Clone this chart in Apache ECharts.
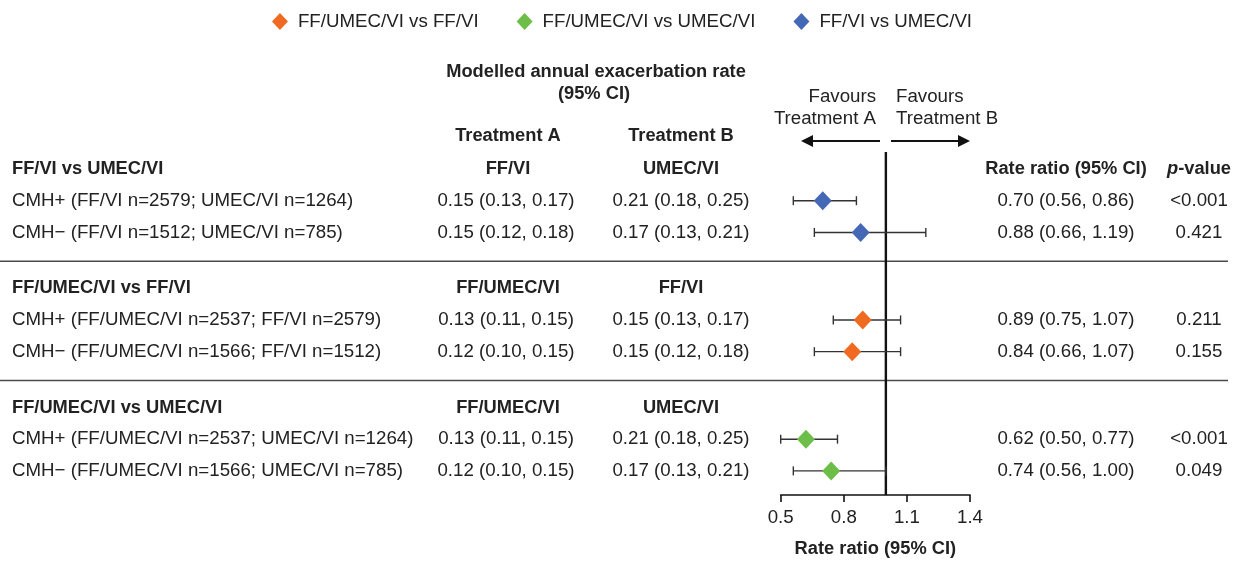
<!DOCTYPE html>
<html>
<head>
<meta charset="utf-8">
<script src="https://cdn.jsdelivr.net/npm/echarts@6/dist/echarts.min.js"></script>
<style>html,body{margin:0;padding:0;background:#fff;}#c{width:1244px;height:567px;}</style>
</head>
<body>
<div id="c"></div>
<script>
// ---- data ----
const groups = ['FF/VI vs UMEC/VI', 'FF/UMEC/VI vs FF/VI', 'FF/UMEC/VI vs UMEC/VI'];
const treatA = ['FF/VI', 'FF/UMEC/VI', 'FF/UMEC/VI'];
const treatB = ['UMEC/VI', 'FF/VI', 'UMEC/VI'];
const rowLabels = [
  'CMH+ (FF/VI n=2579; UMEC/VI n=1264)',
  'CMH\u2212 (FF/VI n=1512; UMEC/VI n=785)',
  'CMH+ (FF/UMEC/VI n=2537; FF/VI n=2579)',
  'CMH\u2212 (FF/UMEC/VI n=1566; FF/VI n=1512)',
  'CMH+ (FF/UMEC/VI n=2537; UMEC/VI n=1264)',
  'CMH\u2212 (FF/UMEC/VI n=1566; UMEC/VI n=785)'
];
const rateA = ['0.15 (0.13, 0.17)', '0.15 (0.12, 0.18)', '0.13 (0.11, 0.15)', '0.12 (0.10, 0.15)', '0.13 (0.11, 0.15)', '0.12 (0.10, 0.15)'];
const rateB = ['0.21 (0.18, 0.25)', '0.17 (0.13, 0.21)', '0.15 (0.13, 0.17)', '0.15 (0.12, 0.18)', '0.21 (0.18, 0.25)', '0.17 (0.13, 0.21)'];
const ratio = [0.70, 0.88, 0.89, 0.84, 0.62, 0.74];
const lower = [0.56, 0.66, 0.75, 0.66, 0.50, 0.56];
const upper = [0.86, 1.19, 1.07, 1.07, 0.77, 1.00];
const pValues = ['<0.001', '0.421', '0.211', '0.155', '<0.001', '0.049'];
const xTicks = [0.5, 0.8, 1.1, 1.4];
const groupColors = ['#4467B6', '#F06A22', '#6CBE48'];
const legendOrder = [1, 2, 0];

// ---- layout helpers (row positions in row units) ----
const GROUP_STEP = 3.76;
const headerY = g => g * GROUP_STEP;
const rowY = i => Math.floor(i / 2) * GROUP_STEP + 1 + (i % 2);
const sepY = g => g * GROUP_STEP + 2.91;

const FONT = 'Liberation Sans, Arial, sans-serif';
const TXT = '#222';
const FS = 18.7;
const FSB = 18.3;

function txt(text, x, y, align, bold) {
  return {type: 'text', style: {text: text, x: x, y: y, align: align, verticalAlign: 'middle',
    fontSize: bold ? FSB : FS, fontFamily: FONT, fontWeight: bold ? 'bold' : 'normal', fill: TXT}};
}

const series = [];

// header rows text
series.push({
  type: 'custom', silent: true, clip: false,
  data: groups.map((g, k) => [k, headerY(k)]),
  renderItem: function (params, api) {
    const k = api.value(0);
    const y = api.coord([1, api.value(1)])[1];
    const ch = [
      txt(groups[k], 12, y, 'left', true),
      txt(treatA[k], 508, y, 'center', true),
      txt(treatB[k], 681, y, 'center', true)
    ];
    if (k === 0) {
      ch.push(txt('Rate ratio (95% CI)', 1066, y, 'center', true));
      ch.push({type: 'text', style: {text: '{i|p}{b|-value}', x: 1199, y: y, align: 'center', verticalAlign: 'middle',
        rich: {i: {fontSize: FSB, fontFamily: FONT, fontWeight: 'bold', fontStyle: 'italic', fill: TXT},
               b: {fontSize: FSB, fontFamily: FONT, fontWeight: 'bold', fill: TXT}}}});
    }
    return {type: 'group', children: ch};
  }
});

// data rows text
series.push({
  type: 'custom', silent: true, clip: false,
  data: rowLabels.map((r, i) => [i, rowY(i)]),
  renderItem: function (params, api) {
    const i = api.value(0);
    const y = api.coord([1, api.value(1)])[1];
    return {type: 'group', children: [
      txt(rowLabels[i], 12, y, 'left', false),
      txt(rateA[i], 506, y, 'center', false),
      txt(rateB[i], 681, y, 'center', false),
      txt(ratio[i].toFixed(2) + ' (' + lower[i].toFixed(2) + ', ' + upper[i].toFixed(2) + ')', 1066, y, 'center', false),
      txt(pValues[i], 1199, y, 'center', false)
    ]};
  }
});

// separator lines
series.push({
  type: 'custom', silent: true, clip: false,
  data: [[sepY(0)], [sepY(1)]],
  renderItem: function (params, api) {
    const y = api.coord([1, api.value(0)])[1];
    return {type: 'line', shape: {x1: 0, y1: y, x2: 1228, y2: y}, style: {stroke: '#4a4a4a', lineWidth: 1.4}};
  }
});

// reference line at 1
series.push({
  type: 'custom', silent: true, clip: false, z: 3,
  data: [[1, -0.54, 10.28]],
  renderItem: function (params, api) {
    const a = api.coord([api.value(0), api.value(1)]);
    const b = api.coord([api.value(0), api.value(2)]);
    return {type: 'line', shape: {x1: a[0], y1: a[1], x2: b[0], y2: b[1]}, style: {stroke: '#111', lineWidth: 2.4}};
  }
});

// error bars
series.push({
  type: 'custom', silent: true, clip: false, z: 4,
  data: ratio.map((r, i) => [lower[i], upper[i], rowY(i)]),
  renderItem: function (params, api) {
    const y = api.value(2);
    const p1 = api.coord([api.value(0), y]);
    const p2 = api.coord([api.value(1), y]);
    const st = {stroke: '#333', lineWidth: 1.4};
    return {type: 'group', children: [
      {type: 'line', shape: {x1: p1[0], y1: p1[1], x2: p2[0], y2: p2[1]}, style: st},
      {type: 'line', shape: {x1: p1[0], y1: p1[1] - 4.5, x2: p1[0], y2: p1[1] + 4.5}, style: st},
      {type: 'line', shape: {x1: p2[0], y1: p2[1] - 4.5, x2: p2[0], y2: p2[1] + 4.5}, style: st}
    ]};
  }
});

// diamonds per comparison (legend order)
legendOrder.forEach(function (g) {
  series.push({
    type: 'scatter', name: groups[g], symbol: 'diamond', symbolSize: [18, 19], z: 5,
    itemStyle: {color: groupColors[g], opacity: 1},
    data: [0, 1].map(k => [ratio[g * 2 + k], rowY(g * 2 + k)])
  });
});

const chart = echarts.init(document.getElementById('c'));
chart.setOption({
  animation: false,
  backgroundColor: '#fff',
  legend: {
    data: legendOrder.map(g => groups[g]),
    top: 7, left: 'center', icon: 'diamond', itemWidth: 16, itemHeight: 17, itemGap: 38,
    textStyle: {fontSize: FS, fontFamily: FONT, color: TXT, padding: [0, 0, 0, 5]}
  },
  grid: {left: 780.7, right: 274, top: 137.3, bottom: 72, containLabel: false},
  xAxis: {
    type: 'value', min: xTicks[0], max: xTicks[xTicks.length - 1], interval: 0.3,
    axisLine: {show: true, onZero: false, lineStyle: {color: '#111', width: 1.6}},
    axisTick: {show: true, length: 7, lineStyle: {color: '#111', width: 1.6}},
    splitLine: {show: false},
    axisLabel: {fontSize: FS, fontFamily: FONT, color: TXT, margin: 13, formatter: v => (+v).toFixed(1)},
    name: 'Rate ratio (95% CI)', nameLocation: 'middle', nameGap: 45,
    nameTextStyle: {fontSize: FSB, fontFamily: FONT, fontWeight: 'bold', color: TXT}
  },
  yAxis: {type: 'value', inverse: true, min: -1, max: 10.28, show: false},
  graphic: [
    {type: 'text', style: {text: 'Modelled annual exacerbation rate', x: 596, y: 72, align: 'center', verticalAlign: 'middle', fontSize: FSB, fontFamily: FONT, fontWeight: 'bold', fill: TXT}},
    {type: 'text', style: {text: '(95% CI)', x: 594, y: 94, align: 'center', verticalAlign: 'middle', fontSize: FSB, fontFamily: FONT, fontWeight: 'bold', fill: TXT}},
    {type: 'text', style: {text: 'Treatment A', x: 508, y: 136, align: 'center', verticalAlign: 'middle', fontSize: FSB, fontFamily: FONT, fontWeight: 'bold', fill: TXT}},
    {type: 'text', style: {text: 'Treatment B', x: 681, y: 136, align: 'center', verticalAlign: 'middle', fontSize: FSB, fontFamily: FONT, fontWeight: 'bold', fill: TXT}},
    {type: 'text', style: {text: 'Favours\nTreatment A', x: 876, y: 108, align: 'right', verticalAlign: 'middle', lineHeight: 22, fontSize: FS, fontFamily: FONT, fill: TXT}},
    {type: 'text', style: {text: 'Favours\nTreatment B', x: 896, y: 108, align: 'left', verticalAlign: 'middle', lineHeight: 22, fontSize: FS, fontFamily: FONT, fill: TXT}},
    {type: 'line', shape: {x1: 880, y1: 141, x2: 810, y2: 141}, style: {stroke: '#111', lineWidth: 2}},
    {type: 'polygon', shape: {points: [[801, 141], [813, 135], [813, 147]]}, style: {fill: '#111'}},
    {type: 'line', shape: {x1: 891, y1: 141, x2: 961, y2: 141}, style: {stroke: '#111', lineWidth: 2}},
    {type: 'polygon', shape: {points: [[970, 141], [958, 135], [958, 147]]}, style: {fill: '#111'}}
  ],
  series: series
});
</script>
</body>
</html>
